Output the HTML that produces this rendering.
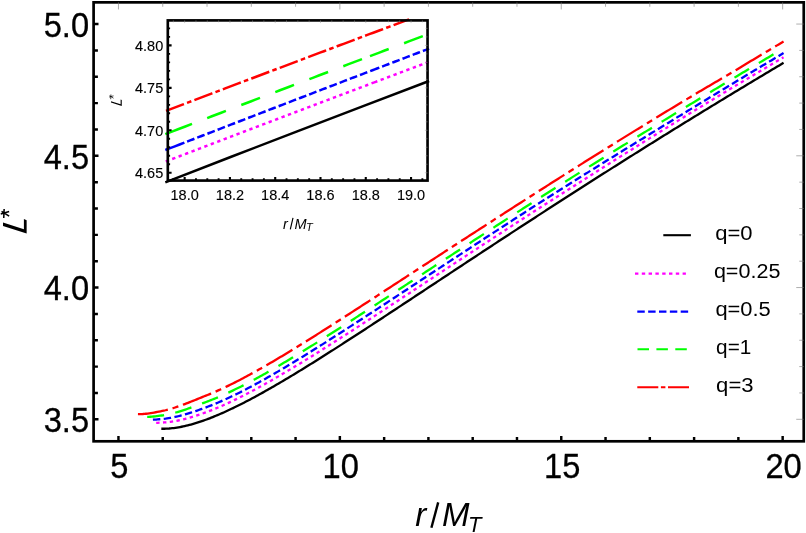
<!DOCTYPE html>
<html><head><meta charset="utf-8"><title>L* vs r/M_T</title>
<style>html,body{margin:0;padding:0;background:#fff;}body{width:806px;height:533px;overflow:hidden;font-family:"Liberation Sans", sans-serif;}svg{display:block;will-change:transform;}</style>
</head><body>
<svg width="806" height="533" viewBox="0 0 806 533">
<rect x="0" y="0" width="806" height="533" fill="#ffffff"/>
<g fill="none" stroke-linecap="butt" stroke-linejoin="round">
<path d="M161.32 428.75 L162.88 428.76 L164.44 428.74 L166.00 428.69 L167.56 428.61 L169.12 428.51 L170.68 428.37 L172.24 428.21 L173.80 428.03 L175.36 427.82 L176.92 427.59 L178.48 427.33 L180.04 427.05 L181.60 426.75 L183.16 426.43 L184.71 426.08 L186.27 425.72 L187.83 425.34 L189.39 424.94 L190.95 424.52 L192.51 424.09 L194.07 423.64 L195.63 423.17 L197.19 422.69 L198.75 422.19 L200.31 421.67 L201.87 421.14 L203.43 420.60 L204.99 420.04 L206.55 419.48 L208.11 418.89 L209.67 418.30 L211.23 417.69 L212.79 417.07 L214.34 416.44 L215.90 415.80 L217.46 415.15 L219.02 414.48 L220.58 413.81 L222.14 413.13 L223.70 412.43 L225.26 411.73 L226.82 411.02 L228.38 410.30 L229.94 409.57 L231.50 408.83 L233.06 408.09 L234.62 407.33 L236.18 406.57 L237.74 405.80 L239.30 405.03 L240.86 404.24 L242.41 403.45 L243.97 402.66 L245.53 401.85 L247.09 401.04 L248.65 400.22 L250.21 399.40 L251.77 398.57 L253.33 397.74 L254.89 396.90 L256.45 396.05 L258.01 395.20 L259.57 394.34 L261.13 393.48 L262.69 392.62 L264.25 391.75 L265.81 390.87 L267.37 389.99 L268.93 389.10 L270.48 388.21 L272.04 387.32 L273.60 386.42 L275.16 385.52 L276.72 384.62 L278.28 383.71 L279.84 382.79 L281.40 381.88 L282.96 380.96 L284.52 380.03 L286.08 379.10 L287.64 378.17 L289.20 377.24 L290.76 376.30 L292.32 375.36 L293.88 374.42 L295.44 373.48 L297.00 372.53 L298.56 371.58 L300.11 370.62 L301.67 369.67 L303.23 368.71 L304.79 367.75 L306.35 366.78 L307.91 365.82 L309.47 364.85 L311.03 363.88 L312.59 362.91 L314.15 361.93 L315.71 360.96 L317.27 359.98 L318.83 359.00 L320.39 358.02 L321.95 357.03 L323.51 356.05 L325.07 355.06 L326.63 354.07 L328.18 353.08 L329.74 352.09 L331.30 351.09 L332.86 350.10 L334.42 349.10 L335.98 348.10 L337.54 347.10 L339.10 346.10 L340.66 345.10 L342.22 344.10 L343.78 343.09 L345.34 342.09 L346.90 341.08 L348.46 340.07 L350.02 339.06 L351.58 338.05 L353.14 337.04 L354.70 336.03 L356.25 335.02 L357.81 334.00 L359.37 332.99 L360.93 331.97 L362.49 330.95 L364.05 329.94 L365.61 328.92 L367.17 327.90 L368.73 326.88 L370.29 325.86 L371.85 324.84 L373.41 323.82 L374.97 322.80 L376.53 321.77 L378.09 320.75 L379.65 319.73 L381.21 318.70 L382.77 317.68 L384.33 316.65 L385.88 315.63 L387.44 314.60 L389.00 313.58 L390.56 312.55 L392.12 311.52 L393.68 310.49 L395.24 309.47 L396.80 308.44 L398.36 307.41 L399.92 306.38 L401.48 305.35 L403.04 304.32 L404.60 303.29 L406.16 302.26 L407.72 301.23 L409.28 300.20 L410.84 299.17 L412.40 298.14 L413.95 297.11 L415.51 296.08 L417.07 295.05 L418.63 294.02 L420.19 292.99 L421.75 291.96 L423.31 290.93 L424.87 289.90 L426.43 288.87 L427.99 287.83 L429.55 286.80 L431.11 285.77 L432.67 284.74 L434.23 283.71 L435.79 282.68 L437.35 281.65 L438.91 280.62 L440.47 279.59 L442.02 278.56 L443.58 277.53 L445.14 276.49 L446.70 275.46 L448.26 274.43 L449.82 273.40 L451.38 272.37 L452.94 271.34 L454.50 270.31 L456.06 269.28 L457.62 268.26 L459.18 267.23 L460.74 266.20 L462.30 265.17 L463.86 264.14 L465.42 263.11 L466.98 262.08 L468.54 261.06 L470.10 260.03 L471.65 259.00 L473.21 257.97 L474.77 256.95 L476.33 255.92 L477.89 254.89 L479.45 253.87 L481.01 252.84 L482.57 251.82 L484.13 250.79 L485.69 249.77 L487.25 248.74 L488.81 247.72 L490.37 246.69 L491.93 245.67 L493.49 244.65 L495.05 243.62 L496.61 242.60 L498.17 241.58 L499.72 240.56 L501.28 239.54 L502.84 238.51 L504.40 237.49 L505.96 236.47 L507.52 235.45 L509.08 234.43 L510.64 233.41 L512.20 232.39 L513.76 231.38 L515.32 230.36 L516.88 229.34 L518.44 228.32 L520.00 227.31 L521.56 226.29 L523.12 225.27 L524.68 224.26 L526.24 223.24 L527.79 222.23 L529.35 221.21 L530.91 220.20 L532.47 219.19 L534.03 218.17 L535.59 217.16 L537.15 216.15 L538.71 215.14 L540.27 214.13 L541.83 213.12 L543.39 212.11 L544.95 211.10 L546.51 210.09 L548.07 209.08 L549.63 208.07 L551.19 207.06 L552.75 206.05 L554.31 205.05 L555.87 204.04 L557.42 203.03 L558.98 202.03 L560.54 201.02 L562.10 200.02 L563.66 199.01 L565.22 198.01 L566.78 197.01 L568.34 196.01 L569.90 195.00 L571.46 194.00 L573.02 193.00 L574.58 192.00 L576.14 191.00 L577.70 190.00 L579.26 189.00 L580.82 188.00 L582.38 187.00 L583.94 186.01 L585.49 185.01 L587.05 184.01 L588.61 183.02 L590.17 182.02 L591.73 181.03 L593.29 180.03 L594.85 179.04 L596.41 178.05 L597.97 177.05 L599.53 176.06 L601.09 175.07 L602.65 174.08 L604.21 173.09 L605.77 172.10 L607.33 171.11 L608.89 170.12 L610.45 169.13 L612.01 168.14 L613.57 167.15 L615.12 166.17 L616.68 165.18 L618.24 164.20 L619.80 163.21 L621.36 162.23 L622.92 161.24 L624.48 160.26 L626.04 159.28 L627.60 158.29 L629.16 157.31 L630.72 156.33 L632.28 155.35 L633.84 154.37 L635.40 153.39 L636.96 152.41 L638.52 151.43 L640.08 150.45 L641.64 149.47 L643.19 148.50 L644.75 147.52 L646.31 146.55 L647.87 145.57 L649.43 144.60 L650.99 143.62 L652.55 142.65 L654.11 141.67 L655.67 140.70 L657.23 139.73 L658.79 138.76 L660.35 137.79 L661.91 136.82 L663.47 135.85 L665.03 134.88 L666.59 133.91 L668.15 132.94 L669.71 131.97 L671.26 131.01 L672.82 130.04 L674.38 129.08 L675.94 128.11 L677.50 127.15 L679.06 126.18 L680.62 125.22 L682.18 124.25 L683.74 123.29 L685.30 122.33 L686.86 121.37 L688.42 120.41 L689.98 119.45 L691.54 118.49 L693.10 117.53 L694.66 116.57 L696.22 115.61 L697.78 114.66 L699.34 113.70 L700.89 112.74 L702.45 111.79 L704.01 110.83 L705.57 109.88 L707.13 108.92 L708.69 107.97 L710.25 107.02 L711.81 106.06 L713.37 105.11 L714.93 104.16 L716.49 103.21 L718.05 102.26 L719.61 101.31 L721.17 100.36 L722.73 99.41 L724.29 98.47 L725.85 97.52 L727.41 96.57 L728.96 95.63 L730.52 94.68 L732.08 93.73 L733.64 92.79 L735.20 91.85 L736.76 90.90 L738.32 89.96 L739.88 89.02 L741.44 88.08 L743.00 87.14 L744.56 86.19 L746.12 85.25 L747.68 84.32 L749.24 83.38 L750.80 82.44 L752.36 81.50 L753.92 80.56 L755.48 79.63 L757.03 78.69 L758.59 77.75 L760.15 76.82 L761.71 75.89 L763.27 74.95 L764.83 74.02 L766.39 73.09 L767.95 72.15 L769.51 71.22 L771.07 70.29 L772.63 69.36 L774.19 68.43 L775.75 67.50 L777.31 66.57 L778.87 65.64 L780.43 64.72 L781.99 63.79 L783.55 62.86" stroke="#000000" stroke-width="2.3"/>
<path d="M156.19 422.86 L157.76 422.81 L159.33 422.72 L160.90 422.62 L162.48 422.53 L164.05 422.44 L165.62 422.33 L167.19 422.19 L168.77 422.02 L170.34 421.83 L171.91 421.61 L173.48 421.37 L175.05 421.10 L176.63 420.81 L178.20 420.50 L179.77 420.17 L181.34 419.83 L182.92 419.46 L184.49 419.07 L186.06 418.67 L187.63 418.25 L189.21 417.81 L190.78 417.36 L192.35 416.89 L193.92 416.41 L195.49 415.92 L197.07 415.41 L198.64 414.89 L200.21 414.36 L201.78 413.81 L203.36 413.26 L204.93 412.69 L206.50 412.11 L208.07 411.53 L209.65 410.93 L211.22 410.32 L212.79 409.69 L214.36 409.06 L215.94 408.41 L217.51 407.75 L219.08 407.09 L220.65 406.41 L222.22 405.72 L223.80 405.02 L225.37 404.31 L226.94 403.60 L228.51 402.87 L230.09 402.14 L231.66 401.40 L233.23 400.65 L234.80 399.89 L236.38 399.12 L237.95 398.35 L239.52 397.56 L241.09 396.78 L242.66 395.98 L244.24 395.18 L245.81 394.37 L247.38 393.55 L248.95 392.73 L250.53 391.90 L252.10 391.07 L253.67 390.23 L255.24 389.38 L256.82 388.53 L258.39 387.68 L259.96 386.82 L261.53 385.95 L263.10 385.08 L264.68 384.20 L266.25 383.32 L267.82 382.44 L269.39 381.55 L270.97 380.65 L272.54 379.75 L274.11 378.85 L275.68 377.94 L277.26 377.03 L278.83 376.12 L280.40 375.20 L281.97 374.28 L283.55 373.35 L285.12 372.43 L286.69 371.49 L288.26 370.56 L289.83 369.62 L291.41 368.68 L292.98 367.73 L294.55 366.79 L296.12 365.84 L297.70 364.88 L299.27 363.93 L300.84 362.97 L302.41 362.01 L303.99 361.04 L305.56 360.08 L307.13 359.11 L308.70 358.14 L310.27 357.17 L311.85 356.19 L313.42 355.21 L314.99 354.23 L316.56 353.25 L318.14 352.27 L319.71 351.28 L321.28 350.29 L322.85 349.31 L324.43 348.31 L326.00 347.32 L327.57 346.33 L329.14 345.33 L330.72 344.33 L332.29 343.33 L333.86 342.33 L335.43 341.33 L337.00 340.33 L338.58 339.32 L340.15 338.31 L341.72 337.31 L343.29 336.30 L344.87 335.29 L346.44 334.27 L348.01 333.26 L349.58 332.25 L351.16 331.23 L352.73 330.22 L354.30 329.20 L355.87 328.18 L357.44 327.16 L359.02 326.14 L360.59 325.12 L362.16 324.10 L363.73 323.08 L365.31 322.06 L366.88 321.03 L368.45 320.01 L370.02 318.98 L371.60 317.96 L373.17 316.93 L374.74 315.90 L376.31 314.87 L377.88 313.84 L379.46 312.82 L381.03 311.79 L382.60 310.76 L384.17 309.73 L385.75 308.69 L387.32 307.66 L388.89 306.63 L390.46 305.60 L392.04 304.57 L393.61 303.53 L395.18 302.50 L396.75 301.47 L398.33 300.43 L399.90 299.40 L401.47 298.36 L403.04 297.33 L404.61 296.29 L406.19 295.26 L407.76 294.22 L409.33 293.19 L410.90 292.15 L412.48 291.12 L414.05 290.08 L415.62 289.04 L417.19 288.01 L418.77 286.97 L420.34 285.94 L421.91 284.90 L423.48 283.86 L425.05 282.83 L426.63 281.79 L428.20 280.75 L429.77 279.72 L431.34 278.68 L432.92 277.64 L434.49 276.61 L436.06 275.57 L437.63 274.54 L439.21 273.50 L440.78 272.46 L442.35 271.43 L443.92 270.39 L445.49 269.36 L447.07 268.32 L448.64 267.29 L450.21 266.25 L451.78 265.21 L453.36 264.18 L454.93 263.15 L456.50 262.11 L458.07 261.08 L459.65 260.04 L461.22 259.01 L462.79 257.98 L464.36 256.94 L465.94 255.91 L467.51 254.88 L469.08 253.84 L470.65 252.81 L472.22 251.78 L473.80 250.75 L475.37 249.72 L476.94 248.69 L478.51 247.65 L480.09 246.62 L481.66 245.59 L483.23 244.56 L484.80 243.54 L486.38 242.51 L487.95 241.48 L489.52 240.45 L491.09 239.42 L492.66 238.39 L494.24 237.37 L495.81 236.34 L497.38 235.31 L498.95 234.29 L500.53 233.26 L502.10 232.24 L503.67 231.21 L505.24 230.19 L506.82 229.16 L508.39 228.14 L509.96 227.12 L511.53 226.09 L513.11 225.07 L514.68 224.05 L516.25 223.03 L517.82 222.01 L519.39 220.99 L520.97 219.97 L522.54 218.95 L524.11 217.93 L525.68 216.92 L527.26 215.90 L528.83 214.88 L530.40 213.87 L531.97 212.85 L533.55 211.84 L535.12 210.83 L536.69 209.81 L538.26 208.80 L539.83 207.79 L541.41 206.78 L542.98 205.77 L544.55 204.76 L546.12 203.75 L547.70 202.74 L549.27 201.73 L550.84 200.73 L552.41 199.72 L553.99 198.71 L555.56 197.71 L557.13 196.70 L558.70 195.70 L560.27 194.70 L561.85 193.69 L563.42 192.69 L564.99 191.69 L566.56 190.68 L568.14 189.68 L569.71 188.68 L571.28 187.68 L572.85 186.68 L574.43 185.68 L576.00 184.68 L577.57 183.68 L579.14 182.68 L580.72 181.68 L582.29 180.69 L583.86 179.69 L585.43 178.69 L587.00 177.70 L588.58 176.70 L590.15 175.70 L591.72 174.71 L593.29 173.71 L594.87 172.72 L596.44 171.72 L598.01 170.73 L599.58 169.73 L601.16 168.74 L602.73 167.75 L604.30 166.75 L605.87 165.76 L607.44 164.77 L609.02 163.78 L610.59 162.78 L612.16 161.79 L613.73 160.80 L615.31 159.81 L616.88 158.82 L618.45 157.83 L620.02 156.84 L621.60 155.85 L623.17 154.86 L624.74 153.88 L626.31 152.89 L627.89 151.90 L629.46 150.91 L631.03 149.93 L632.60 148.94 L634.17 147.96 L635.75 146.97 L637.32 145.99 L638.89 145.01 L640.46 144.02 L642.04 143.04 L643.61 142.06 L645.18 141.08 L646.75 140.10 L648.33 139.12 L649.90 138.14 L651.47 137.16 L653.04 136.18 L654.61 135.20 L656.19 134.22 L657.76 133.25 L659.33 132.27 L660.90 131.30 L662.48 130.32 L664.05 129.35 L665.62 128.37 L667.19 127.40 L668.77 126.43 L670.34 125.46 L671.91 124.48 L673.48 123.51 L675.05 122.54 L676.63 121.58 L678.20 120.61 L679.77 119.64 L681.34 118.67 L682.92 117.71 L684.49 116.74 L686.06 115.77 L687.63 114.81 L689.21 113.85 L690.78 112.88 L692.35 111.92 L693.92 110.96 L695.50 110.00 L697.07 109.04 L698.64 108.08 L700.21 107.12 L701.78 106.16 L703.36 105.21 L704.93 104.25 L706.50 103.30 L708.07 102.34 L709.65 101.39 L711.22 100.43 L712.79 99.48 L714.36 98.53 L715.94 97.58 L717.51 96.63 L719.08 95.68 L720.65 94.73 L722.22 93.78 L723.80 92.83 L725.37 91.89 L726.94 90.94 L728.51 90.00 L730.09 89.05 L731.66 88.11 L733.23 87.16 L734.80 86.22 L736.38 85.28 L737.95 84.34 L739.52 83.40 L741.09 82.46 L742.67 81.52 L744.24 80.58 L745.81 79.64 L747.38 78.71 L748.95 77.77 L750.53 76.83 L752.10 75.90 L753.67 74.96 L755.24 74.03 L756.82 73.10 L758.39 72.17 L759.96 71.23 L761.53 70.30 L763.11 69.37 L764.68 68.44 L766.25 67.51 L767.82 66.58 L769.39 65.66 L770.97 64.73 L772.54 63.80 L774.11 62.88 L775.68 61.95 L777.26 61.03 L778.83 60.10 L780.40 59.18 L781.97 58.26 L783.55 57.33" stroke="#ff00ff" stroke-width="2.3" stroke-dasharray="3.4 3.4"/>
<path d="M152.91 419.70 L154.49 419.63 L156.07 419.53 L157.65 419.40 L159.23 419.25 L160.81 419.09 L162.39 418.94 L163.97 418.78 L165.55 418.61 L167.13 418.40 L168.72 418.16 L170.30 417.90 L171.88 417.62 L173.46 417.31 L175.04 416.98 L176.62 416.63 L178.20 416.25 L179.78 415.86 L181.36 415.45 L182.94 415.03 L184.52 414.58 L186.10 414.12 L187.68 413.65 L189.26 413.16 L190.84 412.66 L192.42 412.15 L194.00 411.63 L195.58 411.10 L197.16 410.55 L198.75 410.00 L200.33 409.44 L201.91 408.87 L203.49 408.30 L205.07 407.72 L206.65 407.13 L208.23 406.54 L209.81 405.93 L211.39 405.31 L212.97 404.68 L214.55 404.04 L216.13 403.39 L217.71 402.72 L219.29 402.05 L220.87 401.36 L222.45 400.66 L224.03 399.96 L225.61 399.24 L227.20 398.52 L228.78 397.78 L230.36 397.04 L231.94 396.29 L233.52 395.53 L235.10 394.76 L236.68 393.99 L238.26 393.20 L239.84 392.41 L241.42 391.61 L243.00 390.81 L244.58 390.00 L246.16 389.18 L247.74 388.35 L249.32 387.52 L250.90 386.68 L252.48 385.84 L254.06 384.99 L255.64 384.13 L257.23 383.27 L258.81 382.40 L260.39 381.53 L261.97 380.66 L263.55 379.77 L265.13 378.89 L266.71 378.00 L268.29 377.10 L269.87 376.20 L271.45 375.29 L273.03 374.39 L274.61 373.47 L276.19 372.55 L277.77 371.63 L279.35 370.71 L280.93 369.78 L282.51 368.85 L284.09 367.91 L285.68 366.97 L287.26 366.03 L288.84 365.08 L290.42 364.13 L292.00 363.18 L293.58 362.23 L295.16 361.27 L296.74 360.31 L298.32 359.34 L299.90 358.38 L301.48 357.41 L303.06 356.43 L304.64 355.46 L306.22 354.48 L307.80 353.50 L309.38 352.52 L310.96 351.54 L312.54 350.55 L314.12 349.57 L315.71 348.58 L317.29 347.58 L318.87 346.59 L320.45 345.59 L322.03 344.60 L323.61 343.60 L325.19 342.60 L326.77 341.59 L328.35 340.59 L329.93 339.58 L331.51 338.58 L333.09 337.57 L334.67 336.56 L336.25 335.54 L337.83 334.53 L339.41 333.52 L340.99 332.50 L342.57 331.48 L344.16 330.46 L345.74 329.45 L347.32 328.43 L348.90 327.40 L350.48 326.38 L352.06 325.36 L353.64 324.33 L355.22 323.31 L356.80 322.28 L358.38 321.26 L359.96 320.23 L361.54 319.20 L363.12 318.17 L364.70 317.14 L366.28 316.11 L367.86 315.08 L369.44 314.05 L371.02 313.02 L372.61 311.99 L374.19 310.95 L375.77 309.92 L377.35 308.88 L378.93 307.85 L380.51 306.81 L382.09 305.78 L383.67 304.74 L385.25 303.71 L386.83 302.67 L388.41 301.63 L389.99 300.60 L391.57 299.56 L393.15 298.52 L394.73 297.48 L396.31 296.44 L397.89 295.41 L399.47 294.37 L401.05 293.33 L402.64 292.29 L404.22 291.25 L405.80 290.21 L407.38 289.17 L408.96 288.13 L410.54 287.09 L412.12 286.05 L413.70 285.01 L415.28 283.97 L416.86 282.93 L418.44 281.89 L420.02 280.85 L421.60 279.81 L423.18 278.77 L424.76 277.73 L426.34 276.69 L427.92 275.65 L429.50 274.61 L431.09 273.57 L432.67 272.53 L434.25 271.49 L435.83 270.45 L437.41 269.41 L438.99 268.37 L440.57 267.34 L442.15 266.30 L443.73 265.26 L445.31 264.22 L446.89 263.18 L448.47 262.14 L450.05 261.10 L451.63 260.07 L453.21 259.03 L454.79 257.99 L456.37 256.95 L457.95 255.92 L459.53 254.88 L461.12 253.84 L462.70 252.81 L464.28 251.77 L465.86 250.74 L467.44 249.70 L469.02 248.67 L470.60 247.63 L472.18 246.60 L473.76 245.56 L475.34 244.53 L476.92 243.49 L478.50 242.46 L480.08 241.43 L481.66 240.40 L483.24 239.36 L484.82 238.33 L486.40 237.30 L487.98 236.27 L489.57 235.24 L491.15 234.21 L492.73 233.18 L494.31 232.15 L495.89 231.12 L497.47 230.09 L499.05 229.06 L500.63 228.03 L502.21 227.00 L503.79 225.98 L505.37 224.95 L506.95 223.92 L508.53 222.90 L510.11 221.87 L511.69 220.84 L513.27 219.82 L514.85 218.79 L516.43 217.77 L518.01 216.75 L519.60 215.72 L521.18 214.70 L522.76 213.68 L524.34 212.66 L525.92 211.64 L527.50 210.63 L529.08 209.61 L530.66 208.59 L532.24 207.58 L533.82 206.57 L535.40 205.55 L536.98 204.54 L538.56 203.53 L540.14 202.52 L541.72 201.51 L543.30 200.50 L544.88 199.50 L546.46 198.49 L548.05 197.48 L549.63 196.48 L551.21 195.48 L552.79 194.47 L554.37 193.47 L555.95 192.47 L557.53 191.47 L559.11 190.47 L560.69 189.47 L562.27 188.47 L563.85 187.47 L565.43 186.48 L567.01 185.48 L568.59 184.49 L570.17 183.49 L571.75 182.50 L573.33 181.51 L574.91 180.52 L576.49 179.52 L578.08 178.53 L579.66 177.54 L581.24 176.55 L582.82 175.57 L584.40 174.58 L585.98 173.59 L587.56 172.60 L589.14 171.62 L590.72 170.63 L592.30 169.65 L593.88 168.66 L595.46 167.68 L597.04 166.70 L598.62 165.72 L600.20 164.73 L601.78 163.75 L603.36 162.77 L604.94 161.79 L606.53 160.81 L608.11 159.83 L609.69 158.85 L611.27 157.88 L612.85 156.90 L614.43 155.92 L616.01 154.95 L617.59 153.97 L619.17 152.99 L620.75 152.02 L622.33 151.04 L623.91 150.07 L625.49 149.09 L627.07 148.12 L628.65 147.15 L630.23 146.17 L631.81 145.20 L633.39 144.23 L634.97 143.26 L636.56 142.29 L638.14 141.31 L639.72 140.34 L641.30 139.37 L642.88 138.40 L644.46 137.43 L646.04 136.46 L647.62 135.49 L649.20 134.52 L650.78 133.55 L652.36 132.58 L653.94 131.62 L655.52 130.65 L657.10 129.68 L658.68 128.71 L660.26 127.74 L661.84 126.77 L663.42 125.81 L665.01 124.84 L666.59 123.87 L668.17 122.90 L669.75 121.94 L671.33 120.97 L672.91 120.00 L674.49 119.03 L676.07 118.07 L677.65 117.10 L679.23 116.13 L680.81 115.16 L682.39 114.20 L683.97 113.23 L685.55 112.26 L687.13 111.30 L688.71 110.33 L690.29 109.36 L691.87 108.39 L693.45 107.43 L695.04 106.46 L696.62 105.49 L698.20 104.53 L699.78 103.56 L701.36 102.59 L702.94 101.63 L704.52 100.67 L706.10 99.70 L707.68 98.74 L709.26 97.78 L710.84 96.81 L712.42 95.85 L714.00 94.89 L715.58 93.93 L717.16 92.97 L718.74 92.01 L720.32 91.05 L721.90 90.09 L723.49 89.14 L725.07 88.18 L726.65 87.22 L728.23 86.27 L729.81 85.31 L731.39 84.36 L732.97 83.40 L734.55 82.45 L736.13 81.49 L737.71 80.54 L739.29 79.59 L740.87 78.64 L742.45 77.68 L744.03 76.73 L745.61 75.78 L747.19 74.83 L748.77 73.88 L750.35 72.93 L751.93 71.98 L753.52 71.04 L755.10 70.09 L756.68 69.14 L758.26 68.19 L759.84 67.25 L761.42 66.30 L763.00 65.36 L764.58 64.41 L766.16 63.47 L767.74 62.52 L769.32 61.58 L770.90 60.64 L772.48 59.70 L774.06 58.75 L775.64 57.81 L777.22 56.87 L778.80 55.93 L780.38 54.99 L781.97 54.05 L783.55 53.11" stroke="#0000ff" stroke-width="2.3" stroke-dasharray="7.45 3.4"/>
<path d="M147.20 416.85 L148.79 416.82 L150.38 416.75 L151.98 416.65 L153.57 416.50 L155.16 416.33 L156.75 416.14 L158.35 415.93 L159.94 415.71 L161.53 415.49 L163.12 415.27 L164.72 415.02 L166.31 414.74 L167.90 414.43 L169.49 414.10 L171.09 413.73 L172.68 413.35 L174.27 412.94 L175.87 412.51 L177.46 412.06 L179.05 411.58 L180.64 411.10 L182.24 410.59 L183.83 410.08 L185.42 409.54 L187.01 409.00 L188.61 408.45 L190.20 407.88 L191.79 407.31 L193.38 406.73 L194.98 406.15 L196.57 405.56 L198.16 404.96 L199.75 404.37 L201.35 403.77 L202.94 403.17 L204.53 402.57 L206.13 401.98 L207.72 401.38 L209.31 400.78 L210.90 400.16 L212.50 399.53 L214.09 398.89 L215.68 398.24 L217.27 397.57 L218.87 396.90 L220.46 396.21 L222.05 395.51 L223.64 394.81 L225.24 394.09 L226.83 393.36 L228.42 392.63 L230.01 391.88 L231.61 391.13 L233.20 390.37 L234.79 389.59 L236.39 388.82 L237.98 388.03 L239.57 387.24 L241.16 386.43 L242.76 385.62 L244.35 384.81 L245.94 383.99 L247.53 383.16 L249.13 382.32 L250.72 381.48 L252.31 380.63 L253.90 379.77 L255.50 378.91 L257.09 378.05 L258.68 377.18 L260.27 376.30 L261.87 375.42 L263.46 374.53 L265.05 373.64 L266.65 372.74 L268.24 371.84 L269.83 370.93 L271.42 370.02 L273.02 369.11 L274.61 368.19 L276.20 367.26 L277.79 366.34 L279.39 365.41 L280.98 364.47 L282.57 363.53 L284.16 362.59 L285.76 361.64 L287.35 360.69 L288.94 359.74 L290.54 358.78 L292.13 357.82 L293.72 356.86 L295.31 355.90 L296.91 354.93 L298.50 353.96 L300.09 352.98 L301.68 352.01 L303.28 351.03 L304.87 350.05 L306.46 349.06 L308.05 348.08 L309.65 347.09 L311.24 346.10 L312.83 345.10 L314.42 344.11 L316.02 343.11 L317.61 342.11 L319.20 341.11 L320.80 340.10 L322.39 339.10 L323.98 338.09 L325.57 337.08 L327.17 336.07 L328.76 335.06 L330.35 334.04 L331.94 333.03 L333.54 332.01 L335.13 330.99 L336.72 329.97 L338.31 328.95 L339.91 327.93 L341.50 326.90 L343.09 325.88 L344.68 324.85 L346.28 323.83 L347.87 322.80 L349.46 321.77 L351.06 320.74 L352.65 319.71 L354.24 318.68 L355.83 317.65 L357.43 316.61 L359.02 315.58 L360.61 314.54 L362.20 313.51 L363.80 312.47 L365.39 311.44 L366.98 310.40 L368.57 309.36 L370.17 308.33 L371.76 307.29 L373.35 306.25 L374.94 305.21 L376.54 304.17 L378.13 303.13 L379.72 302.09 L381.32 301.05 L382.91 300.01 L384.50 298.97 L386.09 297.92 L387.69 296.88 L389.28 295.84 L390.87 294.80 L392.46 293.75 L394.06 292.71 L395.65 291.67 L397.24 290.62 L398.83 289.58 L400.43 288.54 L402.02 287.49 L403.61 286.45 L405.20 285.40 L406.80 284.36 L408.39 283.31 L409.98 282.27 L411.58 281.23 L413.17 280.18 L414.76 279.14 L416.35 278.09 L417.95 277.05 L419.54 276.00 L421.13 274.96 L422.72 273.92 L424.32 272.87 L425.91 271.83 L427.50 270.78 L429.09 269.74 L430.69 268.70 L432.28 267.65 L433.87 266.61 L435.47 265.56 L437.06 264.52 L438.65 263.48 L440.24 262.43 L441.84 261.39 L443.43 260.35 L445.02 259.31 L446.61 258.26 L448.21 257.22 L449.80 256.18 L451.39 255.14 L452.98 254.10 L454.58 253.05 L456.17 252.01 L457.76 250.97 L459.35 249.93 L460.95 248.89 L462.54 247.85 L464.13 246.81 L465.73 245.77 L467.32 244.73 L468.91 243.69 L470.50 242.66 L472.10 241.62 L473.69 240.58 L475.28 239.54 L476.87 238.50 L478.47 237.47 L480.06 236.43 L481.65 235.39 L483.24 234.36 L484.84 233.32 L486.43 232.29 L488.02 231.25 L489.61 230.22 L491.21 229.18 L492.80 228.15 L494.39 227.11 L495.99 226.08 L497.58 225.05 L499.17 224.01 L500.76 222.98 L502.36 221.95 L503.95 220.92 L505.54 219.89 L507.13 218.85 L508.73 217.82 L510.32 216.79 L511.91 215.76 L513.50 214.73 L515.10 213.71 L516.69 212.68 L518.28 211.65 L519.87 210.62 L521.47 209.60 L523.06 208.57 L524.65 207.54 L526.25 206.52 L527.84 205.50 L529.43 204.47 L531.02 203.45 L532.62 202.43 L534.21 201.41 L535.80 200.39 L537.39 199.37 L538.99 198.35 L540.58 197.34 L542.17 196.32 L543.76 195.30 L545.36 194.29 L546.95 193.27 L548.54 192.26 L550.13 191.25 L551.73 190.23 L553.32 189.22 L554.91 188.21 L556.51 187.20 L558.10 186.19 L559.69 185.18 L561.28 184.18 L562.88 183.17 L564.47 182.16 L566.06 181.16 L567.65 180.15 L569.25 179.15 L570.84 178.14 L572.43 177.14 L574.02 176.14 L575.62 175.13 L577.21 174.13 L578.80 173.13 L580.40 172.13 L581.99 171.13 L583.58 170.13 L585.17 169.13 L586.77 168.14 L588.36 167.14 L589.95 166.14 L591.54 165.15 L593.14 164.15 L594.73 163.16 L596.32 162.16 L597.91 161.17 L599.51 160.18 L601.10 159.19 L602.69 158.19 L604.28 157.20 L605.88 156.21 L607.47 155.22 L609.06 154.23 L610.66 153.24 L612.25 152.25 L613.84 151.27 L615.43 150.28 L617.03 149.29 L618.62 148.31 L620.21 147.32 L621.80 146.33 L623.40 145.35 L624.99 144.37 L626.58 143.38 L628.17 142.40 L629.77 141.41 L631.36 140.43 L632.95 139.45 L634.54 138.47 L636.14 137.49 L637.73 136.51 L639.32 135.53 L640.92 134.55 L642.51 133.57 L644.10 132.59 L645.69 131.61 L647.29 130.63 L648.88 129.65 L650.47 128.68 L652.06 127.70 L653.66 126.72 L655.25 125.75 L656.84 124.77 L658.43 123.79 L660.03 122.82 L661.62 121.84 L663.21 120.87 L664.80 119.89 L666.40 118.92 L667.99 117.95 L669.58 116.97 L671.18 116.00 L672.77 115.03 L674.36 114.06 L675.95 113.08 L677.55 112.11 L679.14 111.14 L680.73 110.17 L682.32 109.20 L683.92 108.23 L685.51 107.26 L687.10 106.29 L688.69 105.32 L690.29 104.35 L691.88 103.38 L693.47 102.41 L695.06 101.44 L696.66 100.47 L698.25 99.50 L699.84 98.53 L701.44 97.57 L703.03 96.60 L704.62 95.63 L706.21 94.67 L707.81 93.70 L709.40 92.74 L710.99 91.77 L712.58 90.81 L714.18 89.85 L715.77 88.89 L717.36 87.92 L718.95 86.96 L720.55 86.00 L722.14 85.04 L723.73 84.08 L725.33 83.12 L726.92 82.16 L728.51 81.20 L730.10 80.25 L731.70 79.29 L733.29 78.33 L734.88 77.38 L736.47 76.42 L738.07 75.46 L739.66 74.51 L741.25 73.55 L742.84 72.60 L744.44 71.65 L746.03 70.69 L747.62 69.74 L749.21 68.79 L750.81 67.84 L752.40 66.88 L753.99 65.93 L755.59 64.98 L757.18 64.03 L758.77 63.08 L760.36 62.13 L761.96 61.19 L763.55 60.24 L765.14 59.29 L766.73 58.34 L768.33 57.40 L769.92 56.45 L771.51 55.50 L773.10 54.56 L774.70 53.61 L776.29 52.67 L777.88 51.72 L779.47 50.78 L781.07 49.84 L782.66 48.89" stroke="#00ff00" stroke-width="2.3" stroke-dasharray="17 11.4"/>
<path d="M137.94 414.03 L139.56 414.07 L141.18 414.06 L142.80 414.00 L144.42 413.90 L146.03 413.75 L147.65 413.57 L149.27 413.35 L150.89 413.11 L152.51 412.84 L154.12 412.55 L155.74 412.25 L157.36 411.93 L158.98 411.61 L160.60 411.28 L162.21 410.95 L163.83 410.61 L165.45 410.25 L167.07 409.85 L168.69 409.43 L170.30 408.98 L171.92 408.51 L173.54 408.01 L175.16 407.50 L176.78 406.96 L178.39 406.41 L180.01 405.84 L181.63 405.26 L183.25 404.66 L184.87 404.05 L186.48 403.43 L188.10 402.81 L189.72 402.17 L191.34 401.53 L192.96 400.88 L194.57 400.22 L196.19 399.57 L197.81 398.91 L199.43 398.25 L201.05 397.59 L202.67 396.94 L204.28 396.28 L205.90 395.64 L207.52 394.99 L209.14 394.34 L210.76 393.67 L212.37 392.99 L213.99 392.30 L215.61 391.60 L217.23 390.89 L218.85 390.16 L220.46 389.43 L222.08 388.69 L223.70 387.93 L225.32 387.17 L226.94 386.39 L228.55 385.61 L230.17 384.82 L231.79 384.02 L233.41 383.21 L235.03 382.40 L236.64 381.58 L238.26 380.74 L239.88 379.91 L241.50 379.06 L243.12 378.21 L244.73 377.35 L246.35 376.49 L247.97 375.61 L249.59 374.74 L251.21 373.85 L252.82 372.96 L254.44 372.07 L256.06 371.17 L257.68 370.26 L259.30 369.35 L260.92 368.44 L262.53 367.51 L264.15 366.59 L265.77 365.66 L267.39 364.72 L269.01 363.79 L270.62 362.84 L272.24 361.90 L273.86 360.95 L275.48 359.99 L277.10 359.03 L278.71 358.07 L280.33 357.11 L281.95 356.14 L283.57 355.17 L285.19 354.19 L286.80 353.21 L288.42 352.23 L290.04 351.25 L291.66 350.26 L293.28 349.27 L294.89 348.28 L296.51 347.28 L298.13 346.29 L299.75 345.29 L301.37 344.28 L302.98 343.28 L304.60 342.27 L306.22 341.26 L307.84 340.25 L309.46 339.24 L311.07 338.23 L312.69 337.21 L314.31 336.19 L315.93 335.17 L317.55 334.15 L319.16 333.13 L320.78 332.10 L322.40 331.08 L324.02 330.05 L325.64 329.02 L327.26 327.99 L328.87 326.96 L330.49 325.93 L332.11 324.89 L333.73 323.86 L335.35 322.82 L336.96 321.78 L338.58 320.74 L340.20 319.70 L341.82 318.66 L343.44 317.62 L345.05 316.58 L346.67 315.54 L348.29 314.49 L349.91 313.45 L351.53 312.40 L353.14 311.36 L354.76 310.31 L356.38 309.26 L358.00 308.22 L359.62 307.17 L361.23 306.12 L362.85 305.07 L364.47 304.02 L366.09 302.97 L367.71 301.92 L369.32 300.87 L370.94 299.82 L372.56 298.77 L374.18 297.71 L375.80 296.66 L377.41 295.61 L379.03 294.56 L380.65 293.50 L382.27 292.45 L383.89 291.39 L385.51 290.34 L387.12 289.29 L388.74 288.23 L390.36 287.18 L391.98 286.12 L393.60 285.07 L395.21 284.01 L396.83 282.96 L398.45 281.90 L400.07 280.85 L401.69 279.79 L403.30 278.74 L404.92 277.68 L406.54 276.63 L408.16 275.57 L409.78 274.52 L411.39 273.46 L413.01 272.41 L414.63 271.36 L416.25 270.30 L417.87 269.25 L419.48 268.19 L421.10 267.14 L422.72 266.08 L424.34 265.03 L425.96 263.97 L427.57 262.92 L429.19 261.87 L430.81 260.81 L432.43 259.76 L434.05 258.70 L435.66 257.65 L437.28 256.60 L438.90 255.55 L440.52 254.49 L442.14 253.44 L443.75 252.39 L445.37 251.34 L446.99 250.28 L448.61 249.23 L450.23 248.18 L451.85 247.13 L453.46 246.08 L455.08 245.03 L456.70 243.98 L458.32 242.93 L459.94 241.88 L461.55 240.83 L463.17 239.78 L464.79 238.73 L466.41 237.68 L468.03 236.63 L469.64 235.58 L471.26 234.53 L472.88 233.49 L474.50 232.44 L476.12 231.39 L477.73 230.34 L479.35 229.30 L480.97 228.25 L482.59 227.20 L484.21 226.16 L485.82 225.11 L487.44 224.07 L489.06 223.02 L490.68 221.98 L492.30 220.93 L493.91 219.89 L495.53 218.84 L497.15 217.80 L498.77 216.76 L500.39 215.71 L502.00 214.67 L503.62 213.63 L505.24 212.59 L506.86 211.54 L508.48 210.50 L510.09 209.46 L511.71 208.42 L513.33 207.38 L514.95 206.34 L516.57 205.30 L518.19 204.26 L519.80 203.22 L521.42 202.18 L523.04 201.14 L524.66 200.10 L526.28 199.07 L527.89 198.03 L529.51 196.99 L531.13 195.96 L532.75 194.92 L534.37 193.89 L535.98 192.85 L537.60 191.82 L539.22 190.79 L540.84 189.75 L542.46 188.72 L544.07 187.69 L545.69 186.66 L547.31 185.63 L548.93 184.60 L550.55 183.57 L552.16 182.54 L553.78 181.51 L555.40 180.48 L557.02 179.46 L558.64 178.43 L560.25 177.40 L561.87 176.38 L563.49 175.35 L565.11 174.33 L566.73 173.31 L568.34 172.28 L569.96 171.26 L571.58 170.24 L573.20 169.22 L574.82 168.20 L576.44 167.18 L578.05 166.16 L579.67 165.14 L581.29 164.12 L582.91 163.10 L584.53 162.09 L586.14 161.07 L587.76 160.06 L589.38 159.04 L591.00 158.03 L592.62 157.01 L594.23 156.00 L595.85 154.99 L597.47 153.98 L599.09 152.96 L600.71 151.95 L602.32 150.94 L603.94 149.94 L605.56 148.93 L607.18 147.92 L608.80 146.91 L610.41 145.91 L612.03 144.90 L613.65 143.89 L615.27 142.89 L616.89 141.89 L618.50 140.88 L620.12 139.88 L621.74 138.88 L623.36 137.88 L624.98 136.88 L626.59 135.88 L628.21 134.88 L629.83 133.88 L631.45 132.88 L633.07 131.88 L634.68 130.89 L636.30 129.89 L637.92 128.90 L639.54 127.90 L641.16 126.91 L642.78 125.92 L644.39 124.92 L646.01 123.93 L647.63 122.94 L649.25 121.95 L650.87 120.96 L652.48 119.97 L654.10 118.98 L655.72 118.00 L657.34 117.01 L658.96 116.02 L660.57 115.04 L662.19 114.05 L663.81 113.07 L665.43 112.09 L667.05 111.10 L668.66 110.12 L670.28 109.14 L671.90 108.16 L673.52 107.18 L675.14 106.20 L676.75 105.22 L678.37 104.24 L679.99 103.27 L681.61 102.29 L683.23 101.32 L684.84 100.34 L686.46 99.37 L688.08 98.39 L689.70 97.42 L691.32 96.45 L692.93 95.48 L694.55 94.51 L696.17 93.54 L697.79 92.57 L699.41 91.61 L701.02 90.65 L702.64 89.70 L704.26 88.74 L705.88 87.79 L707.50 86.84 L709.12 85.89 L710.73 84.94 L712.35 83.99 L713.97 83.04 L715.59 82.09 L717.21 81.14 L718.82 80.19 L720.44 79.24 L722.06 78.29 L723.68 77.34 L725.30 76.38 L726.91 75.43 L728.53 74.47 L730.15 73.51 L731.77 72.55 L733.39 71.58 L735.00 70.61 L736.62 69.64 L738.24 68.67 L739.86 67.69 L741.48 66.71 L743.09 65.73 L744.71 64.76 L746.33 63.78 L747.95 62.81 L749.57 61.83 L751.18 60.86 L752.80 59.89 L754.42 58.92 L756.04 57.94 L757.66 56.97 L759.27 56.00 L760.89 55.03 L762.51 54.06 L764.13 53.10 L765.75 52.13 L767.37 51.16 L768.98 50.19 L770.60 49.23 L772.22 48.26 L773.84 47.30 L775.46 46.33 L777.07 45.37 L778.69 44.40 L780.31 43.44 L781.93 42.48 L783.55 41.52" stroke="#ff0000" stroke-width="2.3" stroke-dasharray="30.3 4.9 6.1 4.9"/>
</g>
<rect x="93.6" y="2.35" width="710.15" height="438.95" fill="none" stroke="#000" stroke-width="2.7"/>
<path d="M118.46 441.3 V436.00 M162.74 441.3 V436.90 M207.02 441.3 V436.90 M251.30 441.3 V436.90 M295.58 441.3 V436.90 M339.86 441.3 V436.00 M384.14 441.3 V436.90 M428.42 441.3 V436.90 M472.70 441.3 V436.90 M516.98 441.3 V436.90 M561.26 441.3 V436.00 M605.54 441.3 V436.90 M649.82 441.3 V436.90 M694.10 441.3 V436.90 M738.38 441.3 V436.90 M782.66 441.3 V436.00 M93.6 419.30 H98.50 M93.6 392.95 H97.90 M93.6 366.60 H97.90 M93.6 340.25 H97.90 M93.6 313.90 H97.90 M93.6 287.55 H98.50 M93.6 261.20 H97.90 M93.6 234.85 H97.90 M93.6 208.50 H97.90 M93.6 182.15 H97.90 M93.6 155.80 H98.50 M93.6 129.45 H97.90 M93.6 103.10 H97.90 M93.6 76.75 H97.90 M93.6 50.40 H97.90 M93.6 24.05 H98.50" stroke="#000" stroke-width="2.45" fill="none"/>
<path d="M118.46 2.35 V9.45 M162.74 2.35 V6.75 M207.02 2.35 V6.75 M251.30 2.35 V6.75 M295.58 2.35 V6.75 M339.86 2.35 V9.45 M384.14 2.35 V6.75 M428.42 2.35 V6.75 M472.70 2.35 V6.75 M516.98 2.35 V6.75 M561.26 2.35 V9.45 M605.54 2.35 V6.75 M649.82 2.35 V6.75 M694.10 2.35 V6.75 M738.38 2.35 V6.75 M782.66 2.35 V9.45 M803.75 419.30 H796.25 M803.75 392.95 H799.25 M803.75 366.60 H799.25 M803.75 340.25 H799.25 M803.75 313.90 H799.25 M803.75 287.55 H796.25 M803.75 261.20 H799.25 M803.75 234.85 H799.25 M803.75 208.50 H799.25 M803.75 182.15 H799.25 M803.75 155.80 H796.25 M803.75 129.45 H799.25 M803.75 103.10 H799.25 M803.75 76.75 H799.25 M803.75 50.40 H799.25 M803.75 24.05 H796.25" stroke="#777" stroke-width="0.6" fill="none"/>
<g font-family='"Liberation Sans", sans-serif' font-size="34.2" fill="#000" stroke="#000" stroke-width="0.3">
<text transform="translate(89.1 432.05) scale(0.955 1)" text-anchor="end">3.5</text>
<text transform="translate(89.1 300.30) scale(0.955 1)" text-anchor="end">4.0</text>
<text transform="translate(89.1 168.55) scale(0.955 1)" text-anchor="end">4.5</text>
<text transform="translate(89.1 36.80) scale(0.955 1)" text-anchor="end">5.0</text>
<text transform="translate(119.36 477.6) scale(0.955 1)" text-anchor="middle">5</text>
<text transform="translate(340.76 477.6) scale(0.955 1)" text-anchor="middle">10</text>
<text transform="translate(562.16 477.6) scale(0.955 1)" text-anchor="middle">15</text>
<text transform="translate(783.56 477.6) scale(0.955 1)" text-anchor="middle">20</text>
</g>
<g font-family='"Liberation Sans", sans-serif' font-size="20.5" fill="#000">
<path d="M663.3 235.2 H690.9" stroke="#000000" stroke-width="2.1" fill="none"/>
<text x="715.2" y="239.50" textLength="37.4" lengthAdjust="spacingAndGlyphs">q=0</text>
<path d="M635.0 273.6 H685.9" stroke="#ff00ff" stroke-width="2.1" fill="none" stroke-dasharray="3.4 3.4"/>
<text x="713.9" y="277.90" textLength="66.5" lengthAdjust="spacingAndGlyphs">q=0.25</text>
<path d="M637.3 311.6 H688.2" stroke="#0000ff" stroke-width="2.1" fill="none" stroke-dasharray="7.45 3.4"/>
<text x="715.4" y="315.90" textLength="55.4" lengthAdjust="spacingAndGlyphs">q=0.5</text>
<path d="M637.5 349.2 H686.9" stroke="#00ff00" stroke-width="2.1" fill="none" stroke-dasharray="11.5 7.4"/>
<text x="716.1" y="353.50" textLength="35.2" lengthAdjust="spacingAndGlyphs">q=1</text>
<path d="M637.3 387.2 H689.1" stroke="#ff0000" stroke-width="2.1" fill="none" stroke-dasharray="21 2.6 4.5 2.6"/>
<text x="716.1" y="391.50" textLength="37.5" lengthAdjust="spacingAndGlyphs">q=3</text>
</g>
<rect x="167.80" y="20.40" width="259.75" height="160.18" fill="#fff"/>
<g fill="none" stroke-linecap="butt">
<path d="M165.30 182.30 L231.25 156.79 L297.20 131.39 L363.15 106.13 L429.10 80.98" stroke="#000000" stroke-width="2.5"/>
<path d="M165.75 161.49 L166.54 161.19 L167.32 160.89 L168.11 160.58 L168.90 160.28 M172.18 159.03 L172.97 158.73 L173.76 158.43 L174.54 158.13 L175.33 157.83 M178.61 156.57 L179.40 156.27 L180.19 155.97 L180.97 155.67 L181.76 155.37 M185.04 154.12 L185.83 153.82 L186.62 153.52 L187.40 153.22 L188.19 152.92 M191.47 151.66 L192.26 151.36 L193.05 151.06 L193.83 150.76 L194.62 150.46 M197.90 149.21 L198.69 148.91 L199.47 148.61 L200.26 148.31 L201.05 148.01 M204.33 146.76 L205.12 146.46 L205.90 146.16 L206.69 145.86 L207.48 145.56 M210.76 144.31 L211.55 144.01 L212.33 143.71 L213.12 143.41 L213.91 143.11 M217.19 141.86 L217.98 141.56 L218.76 141.26 L219.55 140.96 L220.34 140.66 M223.62 139.41 L224.41 139.11 L225.20 138.81 L225.98 138.51 L226.77 138.21 M230.05 136.97 L230.84 136.67 L231.63 136.37 L232.41 136.07 L233.20 135.77 M236.48 134.52 L237.27 134.22 L238.05 133.92 L238.84 133.62 L239.63 133.32 M242.91 132.08 L243.70 131.78 L244.49 131.48 L245.27 131.18 L246.06 130.88 M249.34 129.63 L250.13 129.33 L250.92 129.03 L251.70 128.73 L252.49 128.44 M255.77 127.19 L256.56 126.89 L257.35 126.59 L258.13 126.29 L258.92 125.99 M262.20 124.75 L262.99 124.45 L263.78 124.15 L264.56 123.85 L265.35 123.55 M268.63 122.31 L269.42 122.01 L270.21 121.71 L270.99 121.41 L271.78 121.11 M275.06 119.87 L275.85 119.57 L276.63 119.27 L277.42 118.97 L278.21 118.68 M281.49 117.43 L282.28 117.13 L283.06 116.84 L283.85 116.54 L284.64 116.24 M287.92 115.00 L288.71 114.70 L289.49 114.40 L290.28 114.10 L291.07 113.80 M294.35 112.56 L295.14 112.26 L295.93 111.97 L296.71 111.67 L297.50 111.37 M300.78 110.13 L301.57 109.83 L302.36 109.53 L303.14 109.23 L303.93 108.94 M307.21 107.70 L308.00 107.40 L308.79 107.10 L309.57 106.80 L310.36 106.50 M313.64 105.26 L314.43 104.97 L315.21 104.67 L316.00 104.37 L316.79 104.07 M320.07 102.83 L320.86 102.54 L321.65 102.24 L322.43 101.94 L323.22 101.64 M326.50 100.40 L327.29 100.11 L328.08 99.81 L328.86 99.51 L329.65 99.21 M332.93 97.98 L333.72 97.68 L334.51 97.38 L335.29 97.08 L336.08 96.79 M339.36 95.55 L340.15 95.25 L340.94 94.95 L341.72 94.66 L342.51 94.36 M345.79 93.12 L346.58 92.83 L347.37 92.53 L348.15 92.23 L348.94 91.94 M352.22 90.70 L353.01 90.40 L353.79 90.11 L354.58 89.81 L355.37 89.51 M358.65 88.28 L359.44 87.98 L360.22 87.68 L361.01 87.39 L361.80 87.09 M365.08 85.85 L365.87 85.56 L366.65 85.26 L367.44 84.96 L368.23 84.67 M371.51 83.43 L372.18 83.18 L372.86 82.93 L373.53 82.67 L374.20 82.42 M374.20 82.42 L374.99 82.12 L375.78 81.83 L376.56 81.53 L377.35 81.23 M380.63 80.00 L381.42 79.70 L382.21 79.41 L382.99 79.11 L383.78 78.82 M387.06 77.58 L387.85 77.29 L388.63 76.99 L389.42 76.69 L390.21 76.40 M393.49 75.17 L394.28 74.87 L395.06 74.57 L395.85 74.28 L396.64 73.98 M399.92 72.75 L400.71 72.45 L401.50 72.16 L402.28 71.86 L403.07 71.57 M406.35 70.34 L407.14 70.04 L407.93 69.74 L408.71 69.45 L409.50 69.15 M412.78 67.92 L413.57 67.63 L414.36 67.33 L415.14 67.04 L415.93 66.74 M419.21 65.51 L420.00 65.21 L420.79 64.92 L421.57 64.62 L422.36 64.33 M425.64 63.10 L426.43 62.80 L427.21 62.51 L428.00 62.21 L428.79 61.92" stroke="#ff00ff" stroke-width="2.5"/>
<path d="M165.30 150.04 L170.08 148.19 L174.85 146.34 L179.62 144.49 L184.40 142.63 M187.10 141.59 L188.92 140.88 L190.75 140.17 L192.57 139.47 L194.40 138.76 M197.27 137.65 L199.10 136.94 L200.92 136.23 L202.74 135.53 L204.57 134.82 M207.44 133.71 L209.27 133.00 L211.09 132.30 L212.91 131.59 L214.74 130.89 M217.61 129.78 L219.44 129.07 L221.26 128.37 L223.09 127.66 L224.91 126.95 M227.78 125.85 L229.61 125.14 L231.43 124.44 L233.25 123.73 L235.08 123.03 M237.95 121.92 L239.78 121.21 L241.60 120.51 L243.42 119.80 L245.25 119.10 M248.12 117.99 L249.94 117.29 L251.77 116.58 L253.59 115.88 L255.42 115.18 M258.29 114.07 L260.11 113.37 L261.94 112.66 L263.77 111.96 L265.59 111.26 M268.46 110.15 L270.28 109.45 L272.11 108.74 L273.94 108.04 L275.76 107.34 M278.63 106.23 L280.46 105.53 L282.28 104.83 L284.10 104.13 L285.93 103.42 M288.80 102.32 L290.63 101.62 L292.45 100.92 L294.27 100.21 L296.10 99.51 M298.97 98.41 L300.79 97.71 L302.62 97.01 L304.44 96.31 L306.27 95.60 M309.14 94.50 L310.97 93.80 L312.79 93.10 L314.61 92.40 L316.44 91.70 M319.31 90.60 L321.14 89.90 L322.96 89.20 L324.78 88.50 L326.61 87.80 M329.48 86.70 L331.31 86.00 L333.13 85.30 L334.96 84.60 L336.78 83.90 M339.65 82.80 L341.48 82.10 L343.30 81.40 L345.12 80.70 L346.95 80.00 M349.82 78.90 L351.64 78.20 L353.47 77.50 L355.29 76.81 L357.12 76.11 M359.99 75.01 L361.81 74.31 L363.64 73.61 L365.47 72.91 L367.29 72.22 M370.20 71.10 L372.48 70.23 L374.75 69.36 L377.02 68.49 L379.30 67.63 M382.10 66.56 L383.93 65.86 L385.75 65.16 L387.57 64.46 L389.40 63.77 M392.30 62.66 L394.12 61.96 L395.95 61.27 L397.78 60.57 L399.60 59.87 M402.50 58.77 L404.33 58.07 L406.15 57.38 L407.98 56.68 L409.80 55.98 M412.70 54.88 L414.52 54.18 L416.35 53.49 L418.17 52.79 L420.00 52.10 M422.90 50.99 L424.45 50.40 L426.00 49.81 L427.55 49.22 L429.10 48.63" stroke="#0000ff" stroke-width="2.5"/>
<path d="M165.30 134.16 L171.97 131.59 L178.65 129.03 L185.32 126.47 L192.00 123.91 M207.20 118.08 L211.88 116.29 L216.55 114.50 L221.23 112.71 L225.90 110.92 M241.30 105.04 L245.97 103.25 L250.65 101.46 L255.32 99.68 L260.00 97.90 M275.30 92.06 L279.97 90.28 L284.65 88.50 L289.32 86.72 L294.00 84.94 M309.40 79.08 L314.07 77.30 L318.75 75.53 L323.43 73.75 L328.10 71.98 M343.30 66.21 L347.97 64.44 L352.65 62.67 L357.33 60.90 L362.00 59.13 M370.00 56.10 L374.67 54.33 L379.35 52.56 L384.03 50.79 L388.70 49.03 M404.10 43.21 L408.78 41.44 L413.45 39.68 L418.12 37.92 L422.80 36.16" stroke="#00ff00" stroke-width="2.5"/>
<path d="M166.00 110.87 L169.29 109.62 L172.58 108.37 L175.87 107.12 L179.16 105.87 L182.45 104.62 L185.74 103.38 L189.03 102.13 L192.32 100.88 L195.61 99.63 L198.90 98.38 L202.19 97.14 L205.48 95.89 L208.78 94.64 L212.07 93.40 L215.36 92.15 L218.65 90.91 L221.94 89.66 L225.23 88.42 L228.52 87.17 L231.81 85.93 L235.10 84.68 L238.39 83.44 L241.68 82.20 L244.97 80.95 L248.26 79.71 L251.55 78.47 L254.84 77.23 L258.13 75.98 L261.42 74.74 L264.71 73.50 L268.00 72.26 L271.29 71.02 L274.58 69.78 L277.87 68.54 L281.16 67.30 L284.45 66.06 L287.74 64.82 L291.04 63.58 L294.33 62.35 L297.62 61.11 L300.91 59.87 L304.20 58.63 L307.49 57.39 L310.78 56.16 L314.07 54.92 L317.36 53.68 L320.65 52.45 L323.94 51.21 L327.23 49.98 L330.52 48.74 L333.81 47.51 L337.10 46.27 L340.39 45.04 L343.68 43.81 L346.97 42.57 L350.26 41.34 L353.55 40.11 L356.84 38.87 L360.13 37.64 L363.42 36.41 L366.71 35.18 L370.00 33.95 L373.29 32.72 L376.59 31.48 L379.88 30.25 L383.17 29.02 L386.46 27.79 L389.75 26.56 L393.04 25.34 L396.33 24.11 L399.62 22.88 L402.91 21.65 L406.20 20.42 L409.09 19.34" stroke="#ff0000" stroke-width="2.5" stroke-dasharray="19.2 3.3 4.6 3.3"/>
</g>
<rect x="167.80" y="20.40" width="259.75" height="160.18" fill="none" stroke="#000" stroke-width="2.65"/>
<path d="M184.65 180.58 V176.88 M229.93 180.58 V176.88 M275.21 180.58 V176.88 M320.49 180.58 V176.88 M365.77 180.58 V176.88 M411.05 180.58 V176.88 M167.8 172.75 H171.60 M167.8 130.30 H171.60 M167.8 87.85 H171.60 M167.8 45.40 H171.60" stroke="#000" stroke-width="2.1" fill="none"/>
<path d="M173.33 180.58 V178.28 M195.97 180.58 V178.28 M207.29 180.58 V178.28 M218.61 180.58 V178.28 M241.25 180.58 V178.28 M252.57 180.58 V178.28 M263.89 180.58 V178.28 M286.53 180.58 V178.28 M297.85 180.58 V178.28 M309.17 180.58 V178.28 M331.81 180.58 V178.28 M343.13 180.58 V178.28 M354.45 180.58 V178.28 M377.09 180.58 V178.28 M388.41 180.58 V178.28 M399.73 180.58 V178.28 M422.37 180.58 V178.28 M167.8 164.26 H170.10 M167.8 155.77 H170.10 M167.8 147.28 H170.10 M167.8 138.79 H170.10 M167.8 121.81 H170.10 M167.8 113.32 H170.10 M167.8 104.83 H170.10 M167.8 96.34 H170.10 M167.8 79.36 H170.10 M167.8 70.87 H170.10 M167.8 62.38 H170.10 M167.8 53.89 H170.10 M167.8 36.91 H170.10 M167.8 28.42 H170.10" stroke="#000" stroke-width="1.9" fill="none"/>
<path d="M173.33 20.4 V22.40 M184.65 20.4 V23.10 M195.97 20.4 V22.40 M207.29 20.4 V22.40 M218.61 20.4 V22.40 M229.93 20.4 V23.10 M241.25 20.4 V22.40 M252.57 20.4 V22.40 M263.89 20.4 V22.40 M275.21 20.4 V23.10 M286.53 20.4 V22.40 M297.85 20.4 V22.40 M309.17 20.4 V22.40 M320.49 20.4 V23.10 M331.81 20.4 V22.40 M343.13 20.4 V22.40 M354.45 20.4 V22.40 M365.77 20.4 V23.10 M377.09 20.4 V22.40 M388.41 20.4 V22.40 M399.73 20.4 V22.40 M411.05 20.4 V23.10 M422.37 20.4 V22.40 M427.55 172.75 H424.85 M427.55 164.26 H425.55 M427.55 155.77 H425.55 M427.55 147.28 H425.55 M427.55 138.79 H425.55 M427.55 130.30 H424.85 M427.55 121.81 H425.55 M427.55 113.32 H425.55 M427.55 104.83 H425.55 M427.55 96.34 H425.55 M427.55 87.85 H424.85 M427.55 79.36 H425.55 M427.55 70.87 H425.55 M427.55 62.38 H425.55 M427.55 53.89 H425.55 M427.55 45.40 H424.85 M427.55 36.91 H425.55 M427.55 28.42 H425.55" stroke="#999" stroke-width="0.5" fill="none"/>
<g font-family='"Liberation Sans", sans-serif' font-size="15.2" fill="#000" stroke="#000" stroke-width="0.12">
<text transform="translate(163.2 178.20) scale(0.955 1)" text-anchor="end">4.65</text>
<text transform="translate(163.2 135.75) scale(0.955 1)" text-anchor="end">4.70</text>
<text transform="translate(163.2 93.30) scale(0.955 1)" text-anchor="end">4.75</text>
<text transform="translate(163.2 50.85) scale(0.955 1)" text-anchor="end">4.80</text>
<text transform="translate(184.65 200.3) scale(0.955 1)" text-anchor="middle">18.0</text>
<text transform="translate(229.93 200.3) scale(0.955 1)" text-anchor="middle">18.2</text>
<text transform="translate(275.21 200.3) scale(0.955 1)" text-anchor="middle">18.4</text>
<text transform="translate(320.49 200.3) scale(0.955 1)" text-anchor="middle">18.6</text>
<text transform="translate(365.77 200.3) scale(0.955 1)" text-anchor="middle">18.8</text>
<text transform="translate(411.05 200.3) scale(0.955 1)" text-anchor="middle">19.0</text>
</g>
<path d="M26.64 233.40 L3.00 225.90 L3.00 222.50 L23.90 229.13 L23.90 219.10 L26.64 220.30 Z" fill="#000"/>
<path d="M4.14 209.00 L3.74 218.00 M0.74 213.90 L9.14 211.60 M1.54 211.30 L9.14 216.10" stroke="#000" stroke-width="1.55" fill="none" stroke-linecap="butt"/>
<path d="M121.75 105.90 L110.99 102.49 L110.99 101.26 L120.61 104.31 L120.61 99.39 L121.75 99.94 Z" fill="#000"/>
<path d="M110.92 94.49 L110.71 99.20 M109.14 97.05 L113.53 95.85 M109.55 95.69 L113.53 98.21" stroke="#000" stroke-width="0.73" fill="none" stroke-linecap="butt"/>
<g font-family='"Liberation Sans", sans-serif' font-style="italic" fill="#000">
<text x="415.2" y="526.2" font-size="33">r</text>
<text x="441.9" y="526.2" font-size="33">M</text>
<text x="467.9" y="531.9000000000001" font-size="22">T</text>
</g>
<path d="M431.4 527.8 L438.2 502.4" stroke="#000" stroke-width="2.4" fill="none"/>
<g font-family='"Liberation Sans", sans-serif' font-style="italic" fill="#000">
<text x="282.9" y="228.6" font-size="14.5">r</text>
<text x="294.6" y="228.6" font-size="14.5">M</text>
<text x="306.0" y="230.9" font-size="11">T</text>
</g>
<path d="M290.3 229.3 L293.0 217.9" stroke="#000" stroke-width="1.15" fill="none"/>
</svg>
</body></html>
